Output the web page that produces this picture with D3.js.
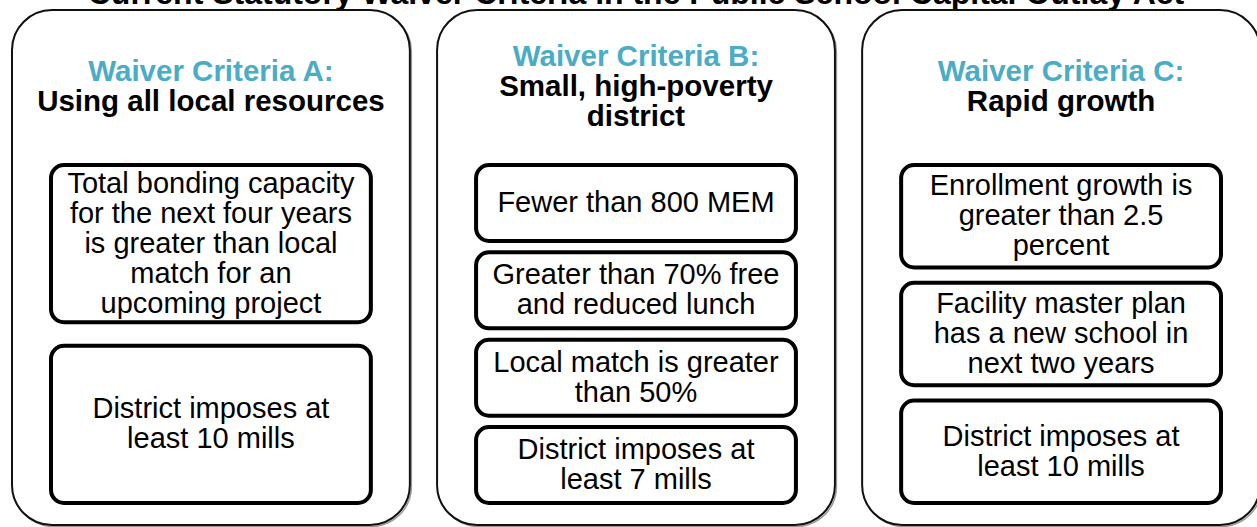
<!DOCTYPE html>
<html>
<head>
<meta charset="utf-8">
<script src="https://cdn.jsdelivr.net/npm/d3@7"></script>
<style>
  html, body { margin: 0; padding: 0; background: #fff; }
  svg { display: block; }
</style>
</head>
<body>
<div id="root"></div>
<script>
const chartTitle = 'Current Statutory Waiver Criteria in the Public School Capital Outlay Act'

const criteriaKeys = ['A', 'B', 'C']
const criteriaLabels = ['Waiver Criteria A:', 'Waiver Criteria B:', 'Waiver Criteria C:']
const criteriaNames = [
    ['Using all local resources'],
    ['Small, high-poverty', 'district'],
    ['Rapid growth'],
]

const criteriaA = [
    ['Total bonding capacity', 'for the next four years', 'is greater than local', 'match for an', 'upcoming project'],
    ['District imposes at', 'least 10 mills'],
]
const criteriaB = [
    ['Fewer than 800 MEM'],
    ['Greater than 70% free', 'and reduced lunch'],
    ['Local match is greater', 'than 50%'],
    ['District imposes at', 'least 7 mills'],
]
const criteriaC = [
    ['Enrollment growth is', 'greater than 2.5', 'percent'],
    ['Facility master plan', 'has a new school in', 'next two years'],
    ['District imposes at', 'least 10 mills'],
]
const criteriaItems = [criteriaA, criteriaB, criteriaC]

const SVG_WIDTH = 1257
const SVG_HEIGHT = 527

const PANEL_TOP = 10
const PANEL_BOTTOM = 525
const PANEL_RADIUS = 40
const PANEL_INSET = 39

const HEADING_CENTER = 86
const LINE_HEIGHT = 30
const CAP_HALF = 10

const BOX_TOP = 165
const BOX_BOTTOM = 503
const BOX_RADIUS = 13

const FONT = '"Liberation Sans", Arial, sans-serif'
const TEAL = '#4bacc6'

const svg = d3.select('#root')
    .append('svg')
    .attr('width', SVG_WIDTH)
    .attr('height', SVG_HEIGHT)

const xScale = d3.scaleBand()
    .domain(criteriaKeys)
    .range([12, 1260])
    .paddingInner(0.064)

// title, mostly above the visible area
svg.append('text')
    .attr('x', 636)
    .attr('y', 4)
    .attr('text-anchor', 'middle')
    .attr('font-family', FONT)
    .attr('font-weight', 'bold')
    .attr('font-size', 32)
    .text(chartTitle)

const panels = svg.selectAll('g.panel')
    .data(criteriaKeys)
    .enter()
    .append('g')
    .attr('class', 'panel')

// faint shadow under the outer panels
panels.append('rect')
    .attr('x', d => xScale(d) + 1.5)
    .attr('y', PANEL_TOP + 1.5)
    .attr('width', xScale.bandwidth())
    .attr('height', PANEL_BOTTOM - PANEL_TOP)
    .attr('rx', PANEL_RADIUS)
    .attr('fill', 'none')
    .attr('stroke', '#999')
    .attr('stroke-width', 1.5)

panels.append('rect')
    .attr('x', d => xScale(d))
    .attr('y', PANEL_TOP)
    .attr('width', xScale.bandwidth())
    .attr('height', PANEL_BOTTOM - PANEL_TOP)
    .attr('rx', PANEL_RADIUS)
    .attr('fill', '#fff')
    .attr('stroke', '#111')
    .attr('stroke-width', 2)

// headings
panels.each(function (key, i) {
    const lines = [criteriaLabels[i]].concat(criteriaNames[i])
    const cx = xScale(key) + xScale.bandwidth() / 2
    const n = lines.length
    d3.select(this).selectAll('text.heading')
        .data(lines)
        .enter()
        .append('text')
        .attr('class', 'heading')
        .attr('x', cx)
        .attr('y', (_, j) => HEADING_CENTER + (j - (n - 1) / 2) * LINE_HEIGHT + CAP_HALF)
        .attr('text-anchor', 'middle')
        .attr('font-family', FONT)
        .attr('font-weight', 'bold')
        .attr('font-size', 29.5)
        .attr('fill', (_, j) => j === 0 ? TEAL : '#000')
        .text(d => d)
})

// criteria boxes
panels.each(function (key, i) {
    const items = criteriaItems[i]
    const yScale = d3.scaleBand()
        .domain(d3.range(items.length))
        .range([BOX_TOP, BOX_BOTTOM])
        .paddingInner(0.13)

    const x0 = xScale(key) + PANEL_INSET
    const w = xScale.bandwidth() - PANEL_INSET * 2
    const cx = x0 + w / 2

    const boxes = d3.select(this).selectAll('g.box')
        .data(items)
        .enter()
        .append('g')
        .attr('class', 'box')

    boxes.append('rect')
        .attr('x', x0)
        .attr('y', (_, j) => yScale(j))
        .attr('width', w)
        .attr('height', yScale.bandwidth())
        .attr('rx', BOX_RADIUS)
        .attr('fill', '#fff')
        .attr('stroke', '#000')
        .attr('stroke-width', 4)

    boxes.each(function (lines, j) {
        const cy = yScale(j) + yScale.bandwidth() / 2
        const n = lines.length
        d3.select(this).selectAll('text')
            .data(lines)
            .enter()
            .append('text')
            .attr('x', cx)
            .attr('y', (_, k) => cy + (k - (n - 1) / 2) * LINE_HEIGHT + CAP_HALF - 1)
            .attr('text-anchor', 'middle')
            .attr('font-family', FONT)
            .attr('font-size', 29)
            .attr('fill', '#000')
            .text(d => d)
    })
})
</script>
</body>
</html>
